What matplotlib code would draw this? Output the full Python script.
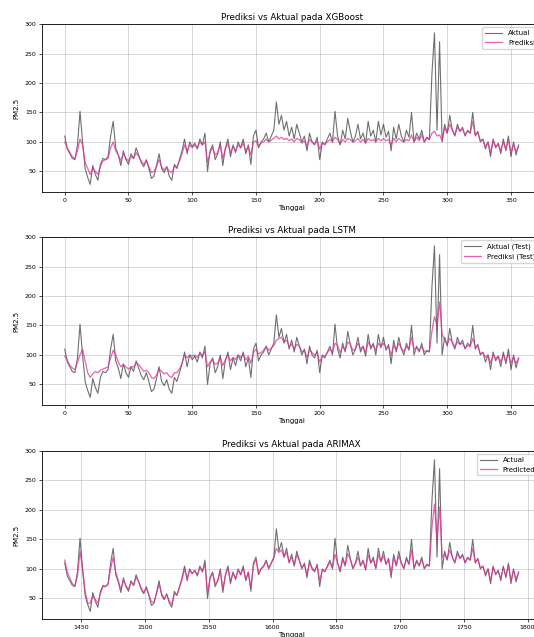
import matplotlib
matplotlib.use("Agg")
import matplotlib.pyplot as plt

# sampled every 2 days of the test period
days = list(range(0, 357, 2))
arimax_start = 1437

actual = [
    110, 88, 80, 72, 70, 95, 152, 100, 55, 40,
    28, 60, 45, 35, 62, 72, 70, 75, 110, 135,
    90, 78, 60, 85, 70, 62, 80, 72, 90, 78,
    65, 58, 70, 55, 38, 42, 60, 80, 55, 48,
    58, 42, 35, 62, 55, 70, 85, 105, 80, 100,
    92, 98, 88, 105, 95, 115, 50, 85, 95, 70,
    80, 100, 60, 90, 105, 75, 95, 82, 100, 90,
    105, 80, 95, 62, 110, 120, 90, 100, 105, 115,
    100, 110, 120, 168, 130, 145, 120, 135, 110, 125,
    105, 130, 115, 100, 110, 85, 115, 100, 95, 108,
    70, 100, 95, 105, 115, 100, 152, 110, 95, 120,
    105, 140, 118, 100, 110, 130, 105, 115, 98, 135,
    110, 120, 100, 135, 112, 130, 108, 118, 85, 125,
    105, 130, 110, 100, 120, 108, 150, 100, 115, 105,
    120, 100, 108, 105, 215, 285, 120, 270, 100, 130,
    115, 145, 120, 110, 130, 118, 125, 110, 120, 115,
    150, 110, 118, 100, 105, 88, 100, 75, 105, 90,
    98, 80, 105, 85, 110, 75, 100, 78, 95,
]

pred_xgb = [
    100, 90, 82, 75, 72, 85, 105, 95, 65, 55,
    45, 55, 50, 45, 58, 68, 70, 72, 90, 100,
    85, 78, 68, 80, 72, 68, 75, 72, 82, 75,
    68, 62, 68, 58, 48, 50, 58, 70, 58, 52,
    58, 50, 48, 58, 58, 68, 80, 95, 85, 95,
    90, 95, 90, 100, 95, 100, 65, 82, 90, 78,
    82, 95, 72, 88, 98, 82, 92, 85, 95, 90,
    98, 85, 92, 78, 100, 102, 92, 98, 100, 105,
    100, 103, 106, 110, 105, 108, 104, 106, 102, 105,
    100, 106, 104, 98, 102, 92, 104, 100, 96, 102,
    88, 98, 96, 100, 104, 100, 108, 104, 96, 104,
    100, 106, 104, 100, 102, 106, 100, 104, 98, 106,
    102, 104, 100, 106, 102, 106, 102, 104, 95, 106,
    100, 106, 102, 100, 104, 102, 112, 100, 108, 102,
    112, 100, 106, 104, 115, 118, 110, 112, 102, 125,
    115, 130, 120, 112, 125, 118, 122, 112, 118, 115,
    135, 112, 115, 102, 104, 92, 100, 82, 102, 92,
    96, 85, 100, 88, 104, 82, 96, 84, 92,
]

pred_lstm = [
    98, 92, 82, 78, 75, 88, 100, 110, 90, 70,
    62, 68, 72, 70, 74, 76, 78, 80, 95, 108,
    100, 88, 80, 84, 80, 76, 80, 80, 86, 84,
    78, 72, 74, 70, 62, 60, 66, 76, 72, 68,
    70, 64, 62, 70, 70, 76, 86, 100, 95, 100,
    98, 100, 96, 102, 100, 105, 80, 88, 92, 84,
    86, 96, 82, 92, 100, 90, 96, 92, 100, 96,
    102, 92, 98, 86, 104, 110, 102, 104, 108, 114,
    108, 112, 116, 125, 128, 130, 122, 125, 115, 118,
    110, 118, 115, 105, 108, 96, 108, 104, 100, 104,
    88, 98, 98, 104, 110, 104, 120, 116, 104, 114,
    108, 122, 118, 108, 110, 120, 110, 114, 104, 122,
    114, 116, 108, 120, 114, 120, 112, 114, 100, 116,
    108, 120, 112, 106, 114, 110, 130, 110, 112, 108,
    114, 106, 106, 106, 140, 165, 150, 190, 135, 125,
    118, 128, 122, 114, 122, 118, 120, 112, 116, 114,
    128, 114, 114, 102, 104, 96, 100, 86, 100, 94,
    98, 88, 100, 90, 102, 86, 96, 86, 94,
]

pred_arimax = [
    115, 95, 84, 75, 72, 88, 130, 100, 62, 42,
    42, 55, 48, 42, 58, 70, 70, 74, 100, 120,
    95, 80, 65, 80, 72, 65, 78, 72, 86, 78,
    68, 60, 68, 56, 44, 44, 58, 74, 58, 50,
    56, 46, 40, 58, 56, 68, 82, 100, 84, 98,
    92, 97, 90, 102, 96, 108, 60, 84, 93, 74,
    80, 97, 66, 88, 102, 78, 93, 84, 98, 90,
    102, 82, 94, 68, 106, 116, 94, 100, 104, 113,
    102, 110, 118, 135, 128, 132, 120, 128, 112, 120,
    106, 124, 114, 102, 108, 90, 110, 102, 97, 106,
    80, 98, 96, 104, 112, 102, 125, 110, 98, 115,
    106, 126, 116, 102, 108, 120, 106, 113, 100, 124,
    110, 116, 102, 124, 112, 122, 108, 116, 92, 120,
    106, 122, 110, 102, 116, 108, 132, 102, 112, 106,
    116, 102, 106, 105, 170, 210, 150, 205, 120, 125,
    116, 132, 120, 112, 125, 118, 122, 112, 118, 115,
    135, 112, 116, 102, 104, 92, 100, 80, 102, 92,
    96, 84, 102, 88, 106, 80, 98, 82, 94,
]

arimax_x = [arimax_start + d for d in days]

panels = [
    ("Prediksi vs Aktual pada XGBoost", days, pred_xgb, "Aktual", "Prediksi"),
    ("Prediksi vs Aktual pada LSTM", days, pred_lstm, "Aktual (Test)", "Prediksi (Test)"),
    ("Prediksi vs Aktual pada ARIMAX", arimax_x, pred_arimax, "Actual", "Predicted"),
]

fig = plt.figure(figsize=(5.34, 6.37), dpi=100)
bottoms = [0.6986, 0.3642, 0.0283]

for (title, x, pred, lab_a, lab_p), b in zip(panels, bottoms):
    # axes run slightly past the right edge, as in the cropped original
    ax = fig.add_axes([0.0787, b, 0.935, 0.2637])
    ax.plot(x, actual, color="#333333", alpha=0.7, lw=0.8, label=lab_a)
    ax.plot(x, pred, color="#e0309a", alpha=0.75, lw=0.9, label=lab_p)
    ax.set_title(title, fontsize=6.3, pad=3)
    ax.set_xlabel("Tanggal", fontsize=5, labelpad=2)
    ax.set_ylabel("PM2.5", fontsize=5, labelpad=4)
    ax.set_yticks([50, 100, 150, 200, 250, 300])
    ax.tick_params(labelsize=4.5, length=2, width=0.5, pad=2)
    ax.grid(True, color="#b0b0b0", lw=0.5, alpha=0.7)
    ax.legend(loc="upper right", fontsize=5, frameon=True, handlelength=2.5)
    for s in ax.spines.values():
        s.set_linewidth(0.6)

plt.savefig("out.png", dpi=100)
